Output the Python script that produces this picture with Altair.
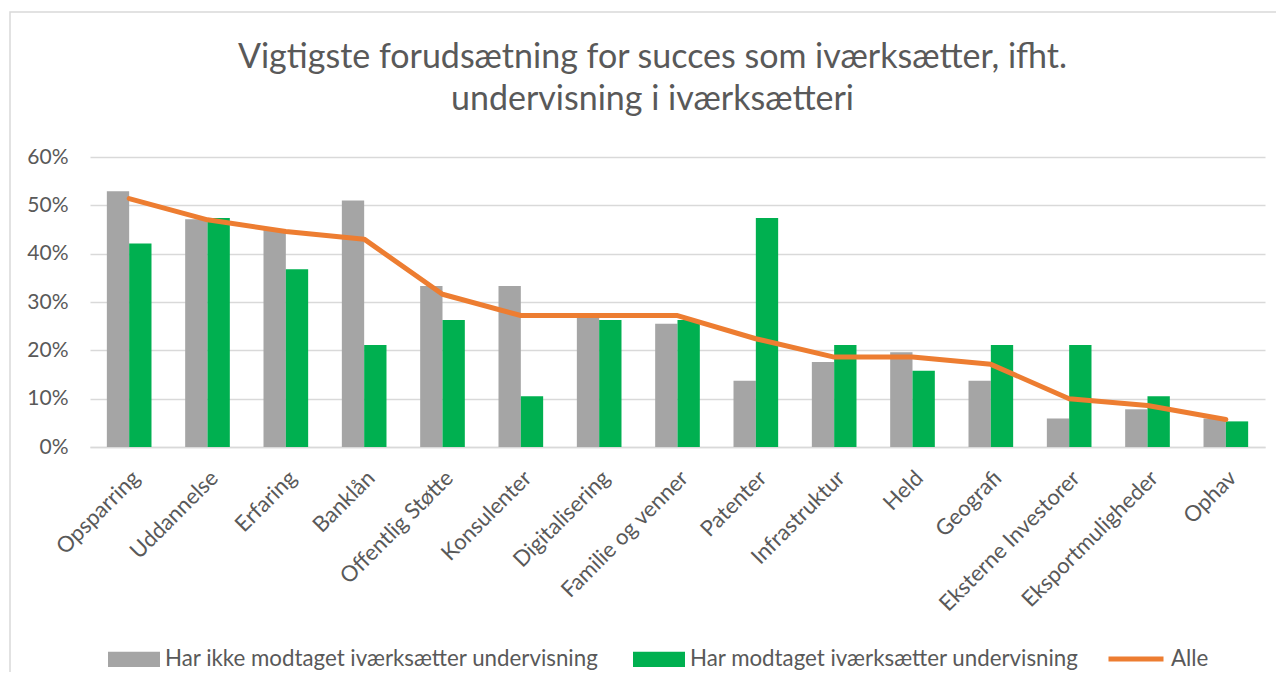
import altair as alt
import pandas as pd

categories = ["Opsparring", "Uddannelse", "Erfaring", "Banklån", "Offentlig Støtte",
              "Konsulenter", "Digitalisering", "Familie og venner", "Patenter",
              "Infrastruktur", "Held", "Geografi", "Eksterne Investorer",
              "Eksportmuligheder", "Ophav"]
ikke_modtaget = [0.529, 0.471, 0.449, 0.510, 0.333, 0.333, 0.275, 0.255, 0.137,
                 0.176, 0.196, 0.137, 0.059, 0.078, 0.059]
modtaget = [0.421, 0.474, 0.368, 0.211, 0.263, 0.105, 0.263, 0.263, 0.474,
            0.211, 0.158, 0.211, 0.211, 0.105, 0.053]
alle = [0.514, 0.470, 0.446, 0.430, 0.316, 0.272, 0.272, 0.272, 0.224,
        0.186, 0.186, 0.171, 0.100, 0.086, 0.057]
bar_series = ["Har ikke modtaget iværksætter undervisning",
              "Har modtaget iværksætter undervisning"]
line_series = ["Alle"]
y_ticks = [0, 0.1, 0.2, 0.3, 0.4, 0.5, 0.6]

bars_df = pd.DataFrame({
    "Kategori": categories * 2,
    "Serie": [bar_series[0]] * len(categories) + [bar_series[1]] * len(categories),
    "Andel": ikke_modtaget + modtaget,
})
line_df = pd.DataFrame({
    "Kategori": categories,
    "Serie": line_series * len(categories),
    "Andel": alle,
})

FONT = "Lato"
TXT = "#595959"

x_enc = alt.X("Kategori:N", sort=categories,
              scale=alt.Scale(paddingInner=0.43, paddingOuter=0.215),
              axis=alt.Axis(title=None, labelAngle=-45, labelFontSize=22,
                            labelPadding=20, ticks=False, tickSize=0,
                            domainColor="#d9d9d9", domainWidth=1.5, labelLimit=400))
y_enc = alt.Y("Andel:Q", scale=alt.Scale(domain=[0, 0.6], nice=False),
              axis=alt.Axis(title=None, format=".0%", values=y_ticks, labelFontSize=21,
                            labelPadding=22, ticks=False, tickSize=0, domain=False,
                            gridColor="#d9d9d9", gridWidth=1.5))

frame = alt.Chart(pd.DataFrame({"f": [0]})).mark_rect(
    fillOpacity=0, stroke="#d9d9d9", strokeWidth=1.5
).encode(x=alt.value(-80), x2=alt.value(1300), y=alt.value(-145), y2=alt.value(700))

bars = alt.Chart(bars_df).mark_bar().encode(
    x=x_enc,
    y=y_enc,
    xOffset=alt.XOffset("Serie:N", sort=bar_series, scale=alt.Scale(paddingInner=0, paddingOuter=0)),
    fill=alt.Fill("Serie:N", sort=bar_series,
                  scale=alt.Scale(domain=bar_series, range=["#A5A5A5", "#00B050"]),
                  legend=alt.Legend(title=None, orient="none", legendX=18, legendY=476,
                                    direction="horizontal",
                                    symbolType="M-1,-0.29L1,-0.29L1,0.29L-1,0.29Z",
                                    symbolSize=2704, symbolStrokeWidth=0,
                                    labelFontSize=22.3, labelFont=FONT, labelColor=TXT,
                                    labelOffset=5, columnPadding=34, labelLimit=800,
                                    padding=0)),
)

line = alt.Chart(line_df).mark_line(strokeWidth=5, strokeCap="round", strokeJoin="round").encode(
    x=alt.X("Kategori:N", sort=categories),
    y=alt.Y("Andel:Q"),
    stroke=alt.Stroke("Serie:N",
                      scale=alt.Scale(domain=line_series, range=["#ED7D31"]),
                      legend=alt.Legend(title=None, orient="none", legendX=1016, legendY=472,
                                        direction="horizontal", symbolType="stroke",
                                        symbolSize=3025, symbolStrokeWidth=5,
                                        labelFontSize=22.3, labelFont=FONT, labelColor=TXT,
                                        labelOffset=5, labelLimit=400, padding=0)),
)

chart = alt.layer(frame, bars, line).properties(
    width=1175,
    height=290,
    title=alt.TitleParams(
        text=["Vigtigste forudsætning for succes som iværksætter, ifht.",
              "undervisning i iværksætteri"],
        fontSize=34, font=FONT, fontWeight="normal", color=TXT,
        lineHeight=42, offset=-106, dx=-25, anchor="middle", frame="group"),
    autosize=alt.AutoSizeParams(type="none"),
    padding={"left": 82, "top": 149, "right": 11, "bottom": 225},
).configure_view(stroke=None).configure_axis(
    labelFont=FONT, labelColor=TXT
)

chart.save("out.html", embed_options={"renderer": "svg", "actions": False})
